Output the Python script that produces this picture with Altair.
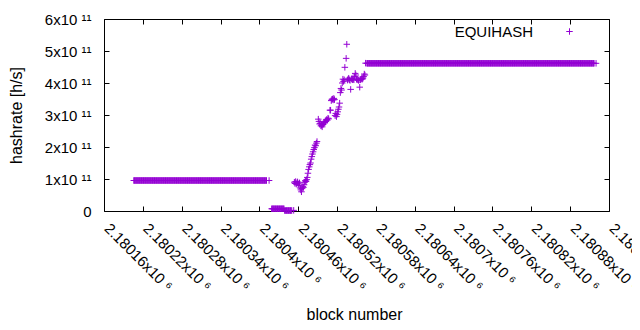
import altair as alt
import pandas as pd

# constant stretches of the series: first block, last block, hashrate [h/s]
flat_starts = [2180206, 2180419, 2180439, 2180566]
flat_ends = [2180411, 2180438, 2180450, 2180917]
flat_values = [0.953e11, 0.07e11, 0.015e11, 4.615e11]

# individual points (hashrate in units of 1e11 h/s)
scatter_blocks = [
    2180415, 2180453, 2180454, 2180455, 2180456, 2180457, 2180458, 2180459, 2180460, 2180461,
    2180462, 2180463, 2180464, 2180465, 2180466, 2180467, 2180468, 2180469, 2180470, 2180471,
    2180472, 2180473, 2180474, 2180475, 2180476, 2180477, 2180478, 2180479, 2180480, 2180481,
    2180482, 2180483, 2180484, 2180485, 2180486, 2180487, 2180488, 2180489, 2180491, 2180492,
    2180493, 2180494, 2180495, 2180496, 2180497, 2180498, 2180499, 2180500, 2180501, 2180502,
    2180503, 2180504, 2180505, 2180506, 2180507, 2180509, 2180510, 2180511, 2180512, 2180513,
    2180514, 2180515, 2180516, 2180517, 2180518, 2180519, 2180520, 2180521, 2180522, 2180523,
    2180524, 2180525, 2180526, 2180527, 2180528, 2180529, 2180530, 2180531, 2180532, 2180534,
    2180535, 2180536, 2180537, 2180538, 2180539, 2180540, 2180541, 2180542, 2180543, 2180544,
    2180545, 2180546, 2180547, 2180548, 2180549, 2180550, 2180551, 2180552, 2180553, 2180554,
    2180555, 2180556, 2180557, 2180558, 2180559, 2180560, 2180561, 2180562, 2180563, 2180564,
    2180920,
]
scatter_values = [
    0.953, 0.02, 0.90, 0.86, 0.92, 0.84, 0.88, 0.91, 0.85, 0.80,
    0.88, 0.72, 0.66, 0.60, 0.70, 0.76, 0.74, 0.82, 0.90, 0.95,
    0.92, 0.98, 1.05, 1.18, 1.30, 1.38, 1.45, 1.50, 1.62, 1.70,
    1.78, 1.85, 1.92, 1.98, 2.06, 2.04, 2.12, 2.17, 2.87, 2.80,
    2.72, 2.74, 2.66, 2.68, 2.63, 2.70, 2.72, 2.78, 2.76, 2.80,
    2.84, 2.86, 2.84, 2.90, 2.88, 3.15, 3.15, 3.45, 3.49, 3.50,
    3.47, 3.52, 3.48, 2.98, 3.05, 2.95, 3.02, 3.10, 3.18, 3.25,
    3.37, 3.70, 3.83, 3.78, 4.00, 4.12, 4.05, 4.10, 4.49, 4.77,
    5.21, 4.09, 4.12, 4.15, 4.10, 4.08, 3.80, 4.12, 4.14, 4.10,
    4.12, 4.10, 4.20, 4.30, 4.25, 4.12, 4.10, 4.12, 4.08, 4.10,
    3.87, 4.10, 4.12, 4.14, 4.12, 4.15, 4.20, 4.28, 4.25, 4.62,
    4.615,
]

series_name = "EQUIHASH"
x_ticks = [2180160, 2180220, 2180280, 2180340, 2180400, 2180460, 2180520,
           2180580, 2180640, 2180700, 2180760, 2180820, 2180880, 2180940]
y_ticks = [0, 1e11, 2e11, 3e11, 4e11, 5e11, 6e11]

rows = []
for s, e, v in zip(flat_starts, flat_ends, flat_values):
    for b in range(s, e + 1):
        rows.append({"block": b, "hashrate": v, "series": series_name})
for b, v in zip(scatter_blocks, scatter_values):
    rows.append({"block": b, "hashrate": v * 1e11, "series": series_name})
df = pd.DataFrame(rows)

PLUS = "M-1,0L1,0M0,-1L0,1"
COLOR = "#9400D3"
FONT = "Liberation Sans"
FS = 15
TFS = 16

xscale = alt.Scale(domain=[2180160, 2180940], nice=False, zero=False)
yscale = alt.Scale(domain=[0, 6e11], nice=False)

points = alt.Chart(df).mark_point(
    shape=PLUS, filled=False, size=42, strokeWidth=1, opacity=1
).encode(
    x=alt.X("block:Q", scale=xscale, axis=alt.Axis(
        values=x_ticks,
        labelExpr="format(datum.value / 1e6, '.6~g') + 'x10 ⁶'",
        labelAngle=45, labelAlign="left", labelBaseline="alphabetic",
        labelOffset={"expr": "-1"}, labelPadding=23, labelFlush=False, labelOverlap=False,
        tickSize={"expr": "-5"}, grid=False,
        title="block number", titleX=250, titleY=108,
        titleBaseline="alphabetic", titleAlign="center",
    )),
    y=alt.Y("hashrate:Q", scale=yscale, axis=alt.Axis(
        values=y_ticks,
        labelExpr="datum.value == 0 ? '0' : format(datum.value / 1e11, 'd') + 'x10 ¹¹'",
        labelAlign="right", labelBaseline="middle", labelPadding=18,
        labelFlush=False, labelOverlap=False,
        tickSize={"expr": "-5"}, grid=False,
        title="hashrate [h/s]", titleX=-88, titleY=96, titleAngle=270,
        titleBaseline="middle", titleAlign="center",
    )),
    color=alt.Color("series:N", scale=alt.Scale(range=[COLOR]), legend=alt.Legend(
        title=None, orient="none", legendX=458, legendY=5, padding=0,
        symbolType=PLUS, symbolSize=42, symbolStrokeWidth=1, symbolFillColor="transparent",
        labelAlign="right", labelOffset={"expr": "-44"}, labelFont=FONT, labelFontSize=FS,
        labelColor="black", labelBaseline="middle",
    )),
)

mirror = alt.Chart(pd.DataFrame({"block": [2180500], "hashrate": [3e11]})).mark_point(
    opacity=0
).encode(
    x=alt.X("block:Q", scale=xscale, axis=alt.Axis(
        orient="top", values=x_ticks, labels=False, title=None,
        tickSize={"expr": "-5"}, grid=False)),
    y=alt.Y("hashrate:Q", scale=yscale, axis=alt.Axis(
        orient="right", values=y_ticks, labels=False, title=None,
        tickSize={"expr": "-5"}, grid=False)),
)

chart = alt.layer(points, mirror).resolve_axis(
    x="independent", y="independent"
).properties(
    width=505, height=192,
    autosize=alt.AutoSizeParams(type="none"),
    padding={"left": 96, "top": 11, "right": 23, "bottom": 111},
    background="white",
).configure_view(
    strokeWidth=0
).configure_axis(
    domainColor="black", domainWidth=1, tickColor="black", tickWidth=1,
    labelFont=FONT, labelFontSize=FS, labelColor="black",
    titleFont=FONT, titleFontSize=TFS, titleColor="black", titleFontWeight="normal",
)

chart.save("out.html", embed_options={"renderer": "svg", "actions": False})
